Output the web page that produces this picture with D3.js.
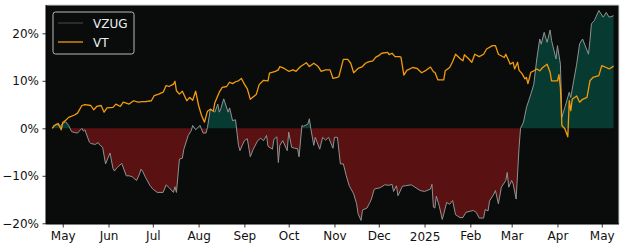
<!DOCTYPE html>
<html>
<head>
<meta charset="utf-8">
<script src="https://cdn.jsdelivr.net/npm/d3@7"></script>
<style>
  body { margin: 0; background: #fff; }
  text { font-family: "DejaVu Sans", sans-serif; }
</style>
</head>
<body>
<svg id="chart" width="625" height="250"></svg>
<script>
// VZUG cumulative return (%)
const vzugDates = [
  "2024-04-24","2024-04-26","2024-04-27","2024-04-29","2024-05-01","2024-05-03","2024-05-05","2024-05-07","2024-05-09","2024-05-11",
  "2024-05-14","2024-05-15","2024-05-16","2024-05-19","2024-05-20","2024-05-23","2024-05-25","2024-05-26","2024-05-28","2024-05-30",
  "2024-06-02","2024-06-04","2024-06-05","2024-06-07","2024-06-10","2024-06-13","2024-06-15","2024-06-17","2024-06-20","2024-06-22",
  "2024-06-23","2024-06-24","2024-06-26","2024-06-29","2024-07-01","2024-07-04","2024-07-08","2024-07-10","2024-07-12","2024-07-15",
  "2024-07-16","2024-07-17","2024-07-19","2024-07-21","2024-07-22","2024-07-25","2024-07-27","2024-07-28","2024-07-30","2024-08-02",
  "2024-08-04","2024-08-06","2024-08-07","2024-08-09","2024-08-12","2024-08-14","2024-08-15","2024-08-16","2024-08-18","2024-08-21",
  "2024-08-22","2024-08-24","2024-08-26","2024-08-28","2024-08-29","2024-09-01","2024-09-03","2024-09-05","2024-09-07","2024-09-10",
  "2024-09-12","2024-09-14","2024-09-16","2024-09-17","2024-09-20","2024-09-21","2024-09-23","2024-09-24","2024-09-25","2024-09-27",
  "2024-09-30","2024-10-01","2024-10-03","2024-10-05","2024-10-07","2024-10-08","2024-10-10","2024-10-11","2024-10-14","2024-10-15",
  "2024-10-16","2024-10-18","2024-10-19","2024-10-22","2024-10-24","2024-10-26","2024-10-28","2024-10-31","2024-11-01","2024-11-03",
  "2024-11-05","2024-11-07","2024-11-09","2024-11-11","2024-11-14","2024-11-16","2024-11-17","2024-11-19","2024-11-20","2024-11-23",
  "2024-11-25","2024-11-26","2024-11-28","2024-12-02","2024-12-05","2024-12-08","2024-12-10","2024-12-11","2024-12-13","2024-12-14",
  "2024-12-17","2024-12-19","2024-12-23","2024-12-25","2024-12-29","2025-01-01","2025-01-05","2025-01-06","2025-01-07","2025-01-08",
  "2025-01-09","2025-01-11","2025-01-13","2025-01-16","2025-01-18","2025-01-20","2025-01-22","2025-01-25","2025-01-27","2025-01-29",
  "2025-02-03","2025-02-05","2025-02-07","2025-02-10","2025-02-11","2025-02-13","2025-02-14","2025-02-17","2025-02-18","2025-02-20",
  "2025-02-22","2025-02-25","2025-02-26","2025-02-27","2025-03-01","2025-03-02","2025-03-04","2025-03-06","2025-03-07","2025-03-09",
  "2025-03-11","2025-03-14","2025-03-16","2025-03-18","2025-03-20","2025-03-21","2025-03-23","2025-03-25","2025-03-27","2025-03-28",
  "2025-03-31","2025-04-01","2025-04-03","2025-04-04","2025-04-06","2025-04-09","2025-04-10","2025-04-12","2025-04-14","2025-04-16",
  "2025-04-18","2025-04-22","2025-04-23","2025-04-24","2025-04-26","2025-04-29","2025-05-02","2025-05-04","2025-05-06","2025-05-09"
];
const vzugValues = [
  0, 0.8, 0.9, 0.3, 1.0, 1.4, 0.6, -0.7, -0.9, -1.0,
  0, -0.6, -0.3, -2.9, -3.2, -3.4, -3.0, -3.5, -4.0, -7.5,
  -5.2, -8.4, -9.0, -8.2, -7.4, -10.0, -10.0, -10.2, -11.0, -9.6,
  -8.6, -9.0, -10.3, -12.0, -12.8, -13.5, -13.5, -11.9, -12.5, -13.5,
  -12.3, -13.5, -6.5, -6.3, -4.4, -1.5, -0.5, 0.6, -0.3, 0.6,
  -1.0, -1.0, 0.2, 4.1, 3.4, 5.1, 3.4, 4.1, 6.2, 3.4,
  4.3, 1.6, 1.8, -3.6, -4.7, -2.6, -2.2, -6.0, -4.4, -2.6,
  -2.1, -2.6, -1.5, -3.8, -4.4, -2.3, -1.8, -7.2, -3.6, -2.6,
  -4.7, -0.8, -4.0, -4.2, -4.3, -6.0, 0.6, 0.4, 0.9, 2.0,
  -0.1, -3.6, -1.9, -4.4, -1.9, -2.5, -1.9, -4.2, -1.9, -1.9,
  -7.5, -7.5, -10.0, -12.1, -13.8, -15.9, -18.0, -19.4, -17.2, -16.8,
  -15.6, -14.9, -12.8, -12.5, -11.9, -12.0, -11.8, -13.3, -12.1, -14.2,
  -12.2, -12.1, -11.9, -12.3, -13.1, -13.3, -12.8, -11.8, -16.6, -16.8,
  -14.3, -16.4, -19.2, -15.6, -16.0, -15.2, -18.2, -18.8, -18.8, -17.7,
  -17.3, -17.7, -18.9, -18.9, -17.1, -17.4, -15.3, -13.8, -13.1, -15.9,
  -12.4, -11.0, -9.3, -12.4, -11.0, -11.7, -14.9, -4.0, 0, 1.3,
  4.4, 7.2, 9.3, 14.6, 18.8, 17.7, 20.2, 18.1, 20.7, 18.5,
  14.6, 17.4, 13.5, 2.3, 4.4, 7.6, 6.5, 10.0, 13.5, 17.8,
  18.8, 15.6, 18.5, 22.0, 22.7, 24.8, 23.4, 24.4, 23.4, 23.7
];

// VT cumulative return (%)
const vtDates = [
  "2024-04-24","2024-04-25","2024-04-28","2024-04-30","2024-05-01","2024-05-03","2024-05-05","2024-05-09","2024-05-11","2024-05-14",
  "2024-05-16","2024-05-20","2024-05-22","2024-05-24","2024-05-27","2024-05-29","2024-05-31","2024-06-04","2024-06-06","2024-06-09",
  "2024-06-11","2024-06-15","2024-06-18","2024-06-21","2024-06-24","2024-06-26","2024-06-30","2024-07-02","2024-07-05","2024-07-08",
  "2024-07-10","2024-07-12","2024-07-15","2024-07-16","2024-07-17","2024-07-19","2024-07-21","2024-07-24","2024-07-26","2024-07-28",
  "2024-07-30","2024-08-01","2024-08-03","2024-08-05","2024-08-07","2024-08-09","2024-08-11","2024-08-12","2024-08-15","2024-08-17",
  "2024-08-20","2024-08-22","2024-08-24","2024-08-26","2024-08-28","2024-08-30","2024-09-01","2024-09-03","2024-09-05","2024-09-09",
  "2024-09-11","2024-09-14","2024-09-17","2024-09-18","2024-09-22","2024-09-24","2024-09-25","2024-09-28","2024-10-01","2024-10-04",
  "2024-10-06","2024-10-09","2024-10-13","2024-10-15","2024-10-18","2024-10-21","2024-10-23","2024-10-26","2024-10-29","2024-10-31",
  "2024-11-03","2024-11-04","2024-11-07","2024-11-10","2024-11-12","2024-11-14","2024-11-17","2024-11-20","2024-11-22","2024-11-24",
  "2024-11-27","2024-11-29","2024-12-01","2024-12-03","2024-12-07","2024-12-08","2024-12-10","2024-12-12","2024-12-15","2024-12-16",
  "2024-12-18","2024-12-20","2024-12-24","2024-12-27","2024-12-30","2025-01-02","2025-01-05","2025-01-07","2025-01-08","2025-01-10",
  "2025-01-14","2025-01-15","2025-01-18","2025-01-20","2025-01-22","2025-01-25","2025-01-27","2025-01-28","2025-01-31","2025-02-02",
  "2025-02-04","2025-02-07","2025-02-10","2025-02-12","2025-02-16","2025-02-18","2025-02-20","2025-02-24","2025-02-25","2025-02-27",
  "2025-02-28","2025-03-02","2025-03-03","2025-03-05","2025-03-06","2025-03-08","2025-03-10","2025-03-11","2025-03-12","2025-03-14",
  "2025-03-16","2025-03-18","2025-03-20","2025-03-22","2025-03-25","2025-03-27","2025-03-28","2025-04-01","2025-04-02","2025-04-03",
  "2025-04-04","2025-04-06","2025-04-08","2025-04-09","2025-04-10","2025-04-11","2025-04-14","2025-04-16","2025-04-18","2025-04-21",
  "2025-04-23","2025-04-25","2025-04-29","2025-05-01","2025-05-04","2025-05-06","2025-05-09"
];
const vtValues = [
  0, 0.5, 1.0, -0.3, 1.2, 1.7, 2.3, 2.8, 3.2, 4.8,
  5.0, 4.8, 3.9, 4.6, 4.8, 3.4, 4.3, 4.4, 5.1, 4.6,
  5.5, 5.1, 5.8, 5.5, 5.6, 5.6, 5.8, 6.9, 7.2, 7.6,
  9.0, 8.8, 9.3, 9.9, 7.9, 7.2, 7.8, 5.8, 6.5, 5.9,
  7.8, 4.8, 2.7, 1.3, 3.6, 4.0, 3.6, 5.4, 7.6, 8.6,
  8.8, 9.7, 9.4, 9.8, 10.0, 10.5, 9.3, 8.3, 6.1, 7.1,
  9.2, 10.1, 10.0, 11.6, 12.0, 12.3, 13.0, 12.6, 12.0, 12.3,
  12.0, 13.0, 13.8, 13.0, 13.7, 13.0, 12.0, 12.3, 12.3, 10.5,
  10.7, 10.9, 14.5, 14.5, 13.7, 11.7, 12.6, 13.0, 13.7, 14.0,
  14.2, 15.0, 15.3, 15.8, 16.0, 15.5, 15.8, 15.1, 15.1, 15.0,
  11.2, 12.2, 12.8, 12.6, 11.7, 12.2, 12.9, 11.9, 11.8, 10.2,
  10.2, 12.1, 12.8, 14.0, 15.6, 14.7, 14.2, 15.5, 14.6, 13.9,
  15.6, 15.1, 15.6, 16.7, 17.4, 17.4, 15.6, 14.9, 15.6, 14.2,
  13.5, 13.9, 12.5, 13.9, 12.2, 11.5, 10.4, 10.7, 9.4, 11.8,
  12.1, 12.5, 12.1, 12.8, 13.5, 11.8, 10.0, 10.0, 11.3, 8.6,
  0.6, -0.1, -1.8, 5.8, 3.7, 6.1, 6.8, 5.5, 6.1, 6.5,
  10.0, 10.7, 11.1, 13.2, 12.8, 12.5, 13.1
];

const yTicks = [-20, -10, 0, 10, 20];
const xTickDates = ["2024-05-01","2024-06-01","2024-07-01","2024-08-01","2024-09-01","2024-10-01","2024-11-01",
                    "2024-12-01","2025-01-01","2025-02-01","2025-03-01","2025-04-01","2025-05-01"];
const xTickLabels = ["May","Jun","Jul","Aug","Sep","Oct","Nov","Dec","2025","Feb","Mar","Apr","May"];

const parse = d3.timeParse("%Y-%m-%d");
const vzug = vzugDates.map((d, i) => ({ date: parse(d), value: vzugValues[i] }));
const vt = vtDates.map((d, i) => ({ date: parse(d), value: vtValues[i] }));

const svg = d3.select("#chart");
const margin = { top: 5, right: 6, bottom: 26, left: 46 };
const width = 625 - margin.left - margin.right;
const height = 250 - margin.top - margin.bottom;

const chart = svg.append("g")
  .attr("transform", `translate(${margin.left}, ${margin.top})`);

const xScale = d3.scaleTime()
  .domain([new Date(2024, 3, 19, 16), new Date(2025, 4, 12, 16)])
  .range([0, width]);

const yScale = d3.scaleLinear()
  .domain([-20.15, 25.96])
  .range([height, 0]);

chart.append("rect")
  .attr("width", width)
  .attr("height", height)
  .attr("fill", "#0a0c0c");

chart.append("clipPath").attr("id", "clip")
  .append("rect").attr("width", width).attr("height", height);

const plot = chart.append("g").attr("clip-path", "url(#clip)");

// add the zero crossings so the two fills meet cleanly
function withCrossings(points) {
  const out = [];
  points.forEach((p, i) => {
    if (i > 0) {
      const q = points[i - 1];
      if ((q.value < 0 && p.value > 0) || (q.value > 0 && p.value < 0)) {
        const t = q.value / (q.value - p.value);
        out.push({ date: new Date(+q.date + t * (p.date - q.date)), value: 0 });
      }
    }
    out.push(p);
  });
  return out;
}
const vzugFill = withCrossings(vzug);

plot.append("path")
  .datum(vzugFill)
  .attr("fill", "#073a30")
  .attr("d", d3.area()
    .x((d) => xScale(d.date))
    .y0(yScale(0))
    .y1((d) => yScale(Math.max(d.value, 0))));

plot.append("path")
  .datum(vzugFill)
  .attr("fill", "#5a1111")
  .attr("d", d3.area()
    .x((d) => xScale(d.date))
    .y0(yScale(0))
    .y1((d) => yScale(Math.min(d.value, 0))));

const line = d3.line()
  .x((d) => xScale(d.date))
  .y((d) => yScale(d.value));

plot.append("path")
  .datum(vzug)
  .attr("fill", "none")
  .attr("stroke", "#8f9393")
  .attr("stroke-width", 1)
  .attr("d", line);

plot.append("path")
  .datum(vt)
  .attr("fill", "none")
  .attr("stroke", "#f29b0c")
  .attr("stroke-width", 1.3)
  .attr("stroke-linejoin", "round")
  .attr("d", line);

// axes
const xAxis = chart.append("g")
  .attr("transform", `translate(0, ${height})`)
  .call(d3.axisBottom(xScale)
    .tickValues(xTickDates.map(parse))
    .tickFormat((d, i) => xTickLabels[i])
    .tickSize(3.5)
    .tickPadding(3.5));

const yAxis = chart.append("g")
  .call(d3.axisLeft(yScale)
    .tickValues(yTicks)
    .tickFormat((d) => (d < 0 ? "\u2212" + Math.abs(d) : d) + "%")
    .tickSize(3.5)
    .tickPadding(3.5));

[xAxis, yAxis].forEach((a) => {
  a.select(".domain").remove();
  a.selectAll(".tick line").attr("stroke", "#000").attr("stroke-width", 0.8);
  a.selectAll(".tick text")
    .attr("fill", "#111")
    .style("font-family", "DejaVu Sans")
    .style("font-size", "12px");
});
xAxis.selectAll(".tick text")
  .filter((d, i) => xTickLabels[i] === "2025")
  .attr("dy", "0.87em");

// frame
chart.append("line").attr("x1", 0).attr("x2", width).attr("y1", 0).attr("y2", 0)
  .attr("stroke", "#cfcfcf").attr("stroke-width", 1);
chart.append("line").attr("x1", width).attr("x2", width).attr("y1", 0).attr("y2", height)
  .attr("stroke", "#cfcfcf").attr("stroke-width", 1);
chart.append("line").attr("x1", 0).attr("x2", 0).attr("y1", 0).attr("y2", height)
  .attr("stroke", "#000").attr("stroke-width", 1);
chart.append("line").attr("x1", 0).attr("x2", width).attr("y1", height).attr("y2", height)
  .attr("stroke", "#000").attr("stroke-width", 1);

// legend
const legend = chart.append("g").attr("transform", "translate(7, 7)");
legend.append("rect")
  .attr("width", 81)
  .attr("height", 42)
  .attr("rx", 2.5)
  .attr("fill", "#0a0c0c")
  .attr("stroke", "#b8b8b8")
  .attr("stroke-width", 1);

const legendItems = [
  { name: "VZUG", color: "#4a4d4d", w: 1 },
  { name: "VT", color: "#f29b0c", w: 1.3 },
];
legendItems.forEach((s, i) => {
  legend.append("line")
    .attr("x1", 5).attr("x2", 30)
    .attr("y1", 11 + i * 19).attr("y2", 11 + i * 19)
    .attr("stroke", s.color)
    .attr("stroke-width", s.w);
  legend.append("text")
    .attr("x", 40)
    .attr("y", 15.5 + i * 19)
    .attr("fill", "#e8eef4")
    .style("font-size", "12px")
    .text(s.name);
});
</script>
</body>
</html>
